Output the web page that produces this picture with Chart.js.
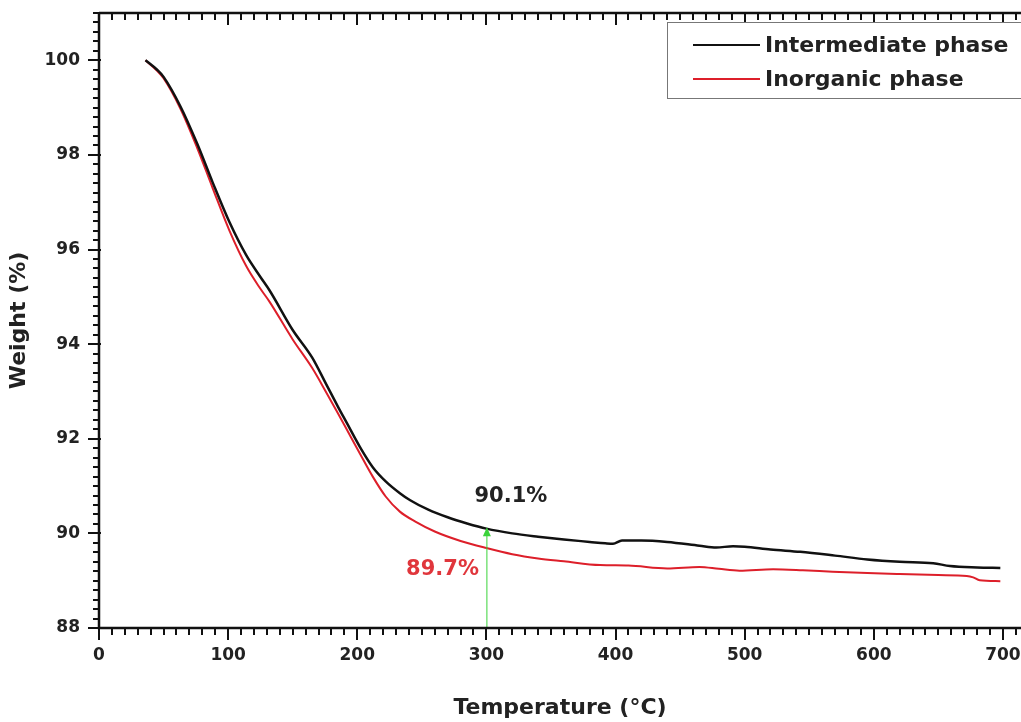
<!DOCTYPE html>
<html>
<head>
<meta charset="utf-8">
<script src="https://cdn.jsdelivr.net/npm/chart.js@4.4.1/dist/chart.umd.min.js"></script>
<style>
  html, body { margin: 0; padding: 0; background: #fff; }
  #wrap { width: 1021px; height: 722px; position: relative; }
</style>
</head>
<body>
<div id="wrap"><canvas id="tgaChart"></canvas></div>
<script>
// ---- data ----
const tempIntermediate = [36, 45, 50, 63, 76, 88, 101, 114, 125, 132, 150, 165, 176, 185, 192, 202, 212, 222, 233, 241,
  255, 270, 285, 300, 320, 340, 360, 380, 392, 398, 405, 420, 440, 465, 478, 491, 500, 520, 543, 570,
  595, 620, 646, 659, 680, 698];
const weightIntermediate = [100.00, 99.80, 99.65, 99.03, 98.24, 97.42, 96.58, 95.88, 95.42, 95.14, 94.30, 93.72, 93.15, 92.68, 92.33, 91.83, 91.40, 91.10, 90.85, 90.70,
  90.50, 90.34, 90.21, 90.10, 90.00, 89.93, 89.87, 89.82, 89.79, 89.78, 89.85, 89.85, 89.82, 89.74, 89.70, 89.73, 89.72, 89.66, 89.61, 89.53,
  89.45, 89.40, 89.37, 89.31, 89.28, 89.27];

const tempInorganic = [36, 45, 50, 63, 76, 88, 101, 114, 125, 132, 150, 165, 176, 185, 192, 202, 212, 222, 233, 245,
  260, 280, 300, 320, 340, 360, 388, 410, 440, 465, 480, 496, 522, 545, 568, 595, 620, 650, 672, 677,
  682, 698];
const weightInorganic = [100.00, 99.78, 99.62, 98.98, 98.15, 97.30, 96.40, 95.65, 95.17, 94.90, 94.10, 93.50, 92.98, 92.54, 92.19, 91.69, 91.20, 90.78, 90.46, 90.25,
  90.04, 89.84, 89.69, 89.56, 89.47, 89.41, 89.33, 89.32, 89.26, 89.29, 89.25, 89.21, 89.24, 89.22, 89.19, 89.16, 89.14, 89.12, 89.10, 89.07,
  89.01, 88.99];

const seriesNames = ['Intermediate phase', 'Inorganic phase'];
const xTickValues = [0, 100, 200, 300, 400, 500, 600, 700];
const yTickValues = [88, 90, 92, 94, 96, 98, 100];

// marker at 300 °C
const markerTemp = 300;
const markerWeight = 90.13;
const labelIntermediate = { text: '90.1%', x: 319, y: 90.77 };
const labelInorganic = { text: '89.7%', x: 266, y: 89.23 };

const FONT = '"DejaVu Sans", Arial, sans-serif';
const AXIS = '#111';

function toPoints(xs, ys) {
  return xs.map((x, i) => ({ x: x, y: ys[i] }));
}

function noPadding(s) {
  s.paddingTop = 0;
  s.paddingBottom = 0;
  s.paddingLeft = 0;
  s.paddingRight = 0;
}

// ---- frame, ticks, arrow, labels and legend ----
const framePlugin = {
  id: 'frame',
  afterDraw(chart) {
    const ctx = chart.ctx;
    const a = chart.chartArea;
    const xs = chart.scales.x, ys = chart.scales.y;
    ctx.save();

    // green marker arrow
    const mx = xs.getPixelForValue(markerTemp);
    const my = ys.getPixelForValue(markerWeight);
    ctx.strokeStyle = '#3ad33a';
    ctx.fillStyle = '#3ad33a';
    ctx.lineWidth = 1;
    ctx.beginPath();
    ctx.moveTo(mx + 0.5, a.bottom);
    ctx.lineTo(mx + 0.5, my + 2);
    ctx.stroke();
    ctx.beginPath();
    ctx.moveTo(mx + 0.5, my);
    ctx.lineTo(mx - 3.5, my + 9);
    ctx.lineTo(mx + 4.5, my + 9);
    ctx.closePath();
    ctx.fill();

    // annotation texts
    ctx.font = 'bold 21px ' + FONT;
    ctx.textAlign = 'center';
    ctx.textBaseline = 'middle';
    ctx.fillStyle = '#222';
    ctx.fillText(labelIntermediate.text, xs.getPixelForValue(labelIntermediate.x), ys.getPixelForValue(labelIntermediate.y));
    ctx.fillStyle = '#e0363c';
    ctx.fillText(labelInorganic.text, xs.getPixelForValue(labelInorganic.x), ys.getPixelForValue(labelInorganic.y));

    // axes lines
    ctx.strokeStyle = AXIS;
    ctx.lineWidth = 2.5;
    ctx.beginPath();
    ctx.moveTo(a.left, a.top);
    ctx.lineTo(a.right, a.top);
    ctx.moveTo(a.left, a.top);
    ctx.lineTo(a.left, a.bottom);
    ctx.lineTo(a.right, a.bottom);
    ctx.stroke();

    // x ticks (bottom outward, top inward)
    ctx.lineWidth = 2;
    for (let v = 0; v <= xs.max; v += 10) {
      const px = Math.round(xs.getPixelForValue(v));
      const major = v % 100 === 0;
      const len = major ? 12 : 7;
      ctx.beginPath();
      ctx.moveTo(px, a.bottom);
      ctx.lineTo(px, a.bottom + len);
      ctx.moveTo(px, a.top);
      ctx.lineTo(px, a.top + len);
      ctx.stroke();
    }
    // y ticks (left outward)
    for (let i = 0; i <= 65; i++) {
      const v = ys.min + i * 0.2;
      if (v > ys.max + 1e-6) break;
      const py = Math.round(ys.getPixelForValue(v));
      const major = i % 10 === 0;
      const len = major ? 11 : 6;
      ctx.beginPath();
      ctx.moveTo(a.left - len, py);
      ctx.lineTo(a.left + (major ? 2 : 0), py);
      ctx.stroke();
    }

    // legend box
    const lx = 667, ly = 22;
    ctx.fillStyle = '#fff';
    ctx.fillRect(lx, ly, 400, 76);
    ctx.strokeStyle = '#777';
    ctx.lineWidth = 1;
    ctx.strokeRect(lx + 0.5, ly + 0.5, 400, 76);
    ctx.font = 'bold 22px ' + FONT;
    ctx.textAlign = 'left';
    chart.data.datasets.forEach((ds, i) => {
      const yy = ly + 23 + i * 34;
      ctx.strokeStyle = ds.borderColor;
      ctx.lineWidth = 2;
      ctx.beginPath();
      ctx.moveTo(693, yy);
      ctx.lineTo(760, yy);
      ctx.stroke();
      ctx.fillStyle = '#222';
      ctx.fillText(ds.label, 765, yy + 1);
    });
    ctx.restore();
  }
};

new Chart(document.getElementById('tgaChart'), {
  type: 'line',
  data: {
    datasets: [
      { label: seriesNames[0], data: toPoints(tempIntermediate, weightIntermediate), borderColor: '#111111', borderWidth: 2.5 },
      { label: seriesNames[1], data: toPoints(tempInorganic, weightInorganic), borderColor: '#dd1f2a', borderWidth: 2 }
    ]
  },
  options: {
    responsive: true,
    maintainAspectRatio: false,
    animation: false,
    layout: { padding: { top: 13, right: 0, bottom: 0, left: 0 } },
    elements: {
      point: { radius: 0 },
      line: { cubicInterpolationMode: 'monotone', fill: false }
    },
    plugins: { legend: { display: false }, tooltip: { enabled: false } },
    scales: {
      x: {
        type: 'linear',
        min: 0,
        max: 714,
        grid: { display: false, drawTicks: false },
        border: { display: false },
        afterBuildTicks: (s) => { s.ticks = xTickValues.map(v => ({ value: v })); },
        afterFit: (s) => { s.height = 94; noPadding(s); },
        ticks: { color: '#222', padding: 17, maxRotation: 0, font: { family: FONT, size: 17, weight: 'bold' } },
        title: { display: true, text: 'Temperature (°C)', color: '#222', padding: { top: 0, bottom: 1 }, font: { family: FONT, size: 22, weight: 'bold' } }
      },
      y: {
        min: 88,
        max: 101,
        grid: { display: false, drawTicks: false },
        border: { display: false },
        afterBuildTicks: (s) => { s.ticks = yTickValues.map(v => ({ value: v })); },
        afterFit: (s) => { s.width = 99; noPadding(s); },
        ticks: { color: '#222', padding: 19, font: { family: FONT, size: 17, weight: 'bold' } },
        title: { display: true, text: 'Weight (%)', color: '#222', padding: { top: 6, bottom: 0 }, font: { family: FONT, size: 22, weight: 'bold' } }
      }
    }
  },
  plugins: [framePlugin]
});
</script>
</body>
</html>
